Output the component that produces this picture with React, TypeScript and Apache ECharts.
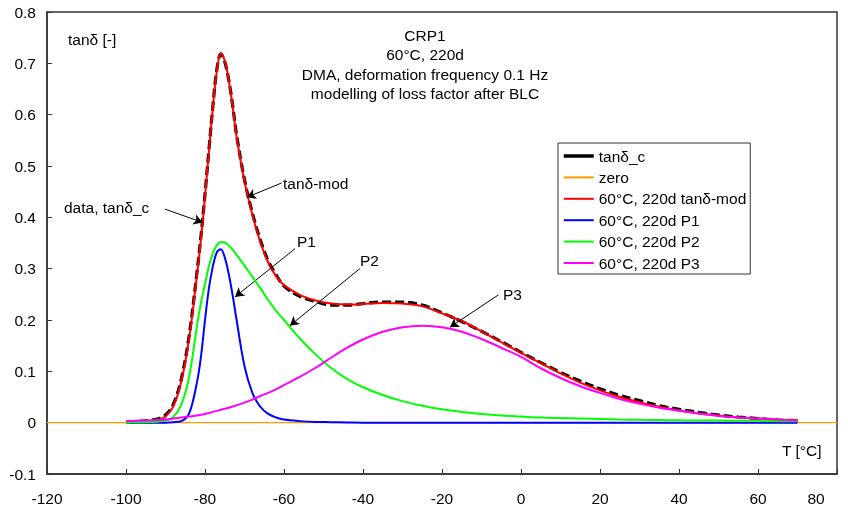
import React, { useEffect, useRef } from "react";
import * as echarts from "echarts";

const T = [-100, -96, -92, -90, -88, -86, -84, -82, -81, -80, -79, -78, -77, -76, -75, -74, -73, -72, -70, -68, -66, -64, -62, -60, -56, -52, -48, -44, -40, -35, -30, -25, -20, -15, -10, -5, 0, 5, 10, 15, 20, 25, 30, 35, 40, 45, 50, 55, 60, 65, 70];

const tanC = [0.001, 0.003, 0.007, 0.015, 0.036, 0.085, 0.17, 0.295, 0.365, 0.445, 0.532, 0.617, 0.688, 0.718, 0.703, 0.668, 0.618, 0.56, 0.473, 0.408, 0.356, 0.315, 0.288, 0.266, 0.246, 0.236, 0.229, 0.229, 0.232, 0.235, 0.235, 0.229, 0.214, 0.197, 0.178, 0.158, 0.137, 0.117, 0.098, 0.081, 0.066, 0.053, 0.043, 0.033, 0.026, 0.02, 0.015, 0.011, 0.008, 0.005, 0.004];

const tanMod = [0.001, 0.002, 0.005, 0.012, 0.032, 0.08, 0.165, 0.29, 0.36, 0.44, 0.53, 0.615, 0.685, 0.72, 0.705, 0.668, 0.615, 0.557, 0.47, 0.405, 0.352, 0.312, 0.285, 0.268, 0.249, 0.238, 0.232, 0.23, 0.231, 0.233, 0.232, 0.227, 0.213, 0.198, 0.178, 0.157, 0.136, 0.116, 0.096, 0.078, 0.063, 0.05, 0.04, 0.031, 0.024, 0.018, 0.014, 0.01, 0.008, 0.006, 0.0045];

const p1 = [0, 0, 0, 0, 0.001, 0.003, 0.018, 0.08, 0.13, 0.2, 0.262, 0.305, 0.332, 0.338, 0.322, 0.29, 0.248, 0.2, 0.11, 0.058, 0.031, 0.017, 0.01, 0.006, 0.003, 0.0015, 0.001, 0.0005, 0, 0, 0, 0, 0, 0, 0, 0, 0, 0, 0, 0, 0, 0, 0, 0, 0, 0, 0, 0, 0, 0, 0];

const p2 = [0, 0.001, 0.002, 0.004, 0.011, 0.035, 0.09, 0.19, 0.235, 0.27, 0.305, 0.33, 0.346, 0.352, 0.351, 0.345, 0.337, 0.327, 0.306, 0.284, 0.262, 0.239, 0.218, 0.2, 0.164, 0.133, 0.106, 0.085, 0.069, 0.054, 0.042, 0.033, 0.026, 0.021, 0.017, 0.014, 0.012, 0.01, 0.009, 0.008, 0.007, 0.006, 0.0055, 0.005, 0.0045, 0.004, 0.004, 0.0035, 0.0035, 0.003, 0.003];

const p3 = [0.003, 0.004, 0.005, 0.006, 0.008, 0.01, 0.012, 0.014, 0.0155, 0.017, 0.019, 0.021, 0.023, 0.025, 0.027, 0.029, 0.0315, 0.034, 0.039, 0.045, 0.052, 0.058, 0.065, 0.073, 0.089, 0.107, 0.127, 0.146, 0.162, 0.177, 0.186, 0.189, 0.186, 0.177, 0.163, 0.146, 0.128, 0.106, 0.087, 0.071, 0.058, 0.046, 0.037, 0.029, 0.023, 0.018, 0.013, 0.01, 0.008, 0.006, 0.004];

const zeroT = [-120, 80];
const zeroV = [0, 0];

const seriesNames = ["tanδ_c", "zero", "60°C, 220d tanδ-mod", "60°C, 220d P1", "60°C, 220d P2", "60°C, 220d P3"];

// arrows: [fromT, fromV, toT, toV]
const arrows = [
  [-90.1, 0.416, -80.6, 0.39],
  [-60.6, 0.467, -69.4, 0.439],
  [-57.2, 0.339, -72.4, 0.245],
  [-40.8, 0.3, -58.5, 0.189],
  [-5.7, 0.249, -18, 0.186],
];

const FONT = "'Liberation Sans', Arial, sans-serif";

function pairs(xs: number[], ys: number[]) {
  return xs.map((x, i) => [x, ys[i]]);
}

export default function App() {
  const ref = useRef<HTMLDivElement>(null);
  useEffect(() => {
    document.body.style.margin = "0";
    const chart = echarts.init(ref.current!, null, { renderer: "svg" });
    const txt = (text: string, x: number, y: number, align = "left") => ({
      type: "text",
      x,
      y,
      style: { text, fill: "#000", font: `15.5px ${FONT}`, textAlign: align, textVerticalAlign: "middle" },
      silent: true,
    });
    const lineCommon = { type: "line", symbol: "none", smooth: 0.35, animation: false };
    chart.setOption({
      animation: false,
      textStyle: { fontFamily: FONT },
      grid: { left: 47, right: 11, top: 12, bottom: 36, show: true, borderColor: "#333", borderWidth: 1.5 },
      xAxis: {
        type: "value",
        min: -120,
        max: 80,
        interval: 20,
        axisLine: { onZero: false, lineStyle: { color: "#333", width: 1.5 } },
        axisTick: { inside: true, length: 5, lineStyle: { color: "#333" } },
        axisLabel: {
          color: "#000",
          fontSize: 15.5,
          margin: 16,
          fontFamily: FONT,
          formatter: (v: number) => (v === 80 ? "{e|80}" : String(v)),
          rich: { e: { fontSize: 15.5, fontFamily: FONT, color: "#000", padding: [0, 42, 0, 0] } },
        },
        splitLine: { show: false },
      },
      yAxis: {
        type: "value",
        min: -0.1,
        max: 0.8,
        interval: 0.1,
        axisLine: { onZero: false, lineStyle: { color: "#333", width: 1.5 } },
        axisTick: { inside: true, length: 5, lineStyle: { color: "#333" } },
        axisLabel: {
          color: "#000",
          fontSize: 15.5,
          margin: 11,
          fontFamily: FONT,
          formatter: (v: number) => String(Math.round(v * 10) / 10),
        },
        splitLine: { show: false },
      },
      legend: {
        orient: "vertical",
        left: 558,
        top: 143,
        backgroundColor: "#fff",
        borderColor: "#333",
        borderWidth: 1,
        borderRadius: 0,
        padding: [5, 4, 3, 4],
        itemWidth: 30,
        itemHeight: 14,
        itemGap: 5.4,
        itemStyle: { opacity: 0 },
        textStyle: { color: "#000", fontSize: 15.5, fontFamily: FONT },
        data: [
          { name: seriesNames[0], lineStyle: { type: "solid", width: 3.5 } },
          seriesNames[1],
          seriesNames[2],
          seriesNames[3],
          seriesNames[4],
          seriesNames[5],
        ],
      },
      graphic: [
        txt("CRP1", 425, 35, "center"),
        txt("60°C, 220d", 425, 54, "center"),
        txt("DMA, deformation frequency 0.1 Hz", 425, 74.5, "center"),
        txt("modelling of loss factor after BLC", 425, 93.5, "center"),
        txt("tanδ [-]", 68, 39),
        txt("T [°C]", 782, 450),
        txt("data, tanδ_c", 64, 207),
        txt("tanδ-mod", 283, 183),
        txt("P1", 297, 241),
        txt("P2", 360, 260),
        txt("P3", 503, 294),
      ],
      series: [
        {
          ...lineCommon,
          name: seriesNames[0],
          data: pairs(T, tanC),
          lineStyle: { color: "#000", width: 3.2, type: [9, 4] },
          itemStyle: { color: "#000" },
          z: 2,
        },
        {
          ...lineCommon,
          name: seriesNames[1],
          smooth: false,
          data: pairs(zeroT, zeroV),
          lineStyle: { color: "#FF9900", width: 1.2 },
          itemStyle: { color: "#FF9900" },
          z: 1,
        },
        {
          ...lineCommon,
          name: seriesNames[2],
          data: pairs(T, tanMod),
          lineStyle: { color: "#FF0000", width: 2 },
          itemStyle: { color: "#FF0000" },
          z: 3,
        },
        {
          ...lineCommon,
          name: seriesNames[3],
          data: pairs(T, p1),
          lineStyle: { color: "#0000FF", width: 2 },
          itemStyle: { color: "#0000FF" },
          z: 4,
        },
        {
          ...lineCommon,
          name: seriesNames[4],
          data: pairs(T, p2),
          lineStyle: { color: "#00FF00", width: 2 },
          itemStyle: { color: "#00FF00" },
          z: 5,
        },
        {
          ...lineCommon,
          name: seriesNames[5],
          data: pairs(T, p3),
          lineStyle: { color: "#FF00FF", width: 2 },
          itemStyle: { color: "#FF00FF" },
          z: 6,
        },
        {
          type: "line",
          name: "arrows",
          data: [],
          symbol: "none",
          z: 7,
          markLine: {
            silent: true,
            animation: false,
            symbol: ["none", "arrow"],
            symbolSize: [8, 9],
            label: { show: false },
            lineStyle: { color: "#000", width: 1, type: "solid" },
            emphasis: { disabled: true },
            data: arrows.map((a) => [{ coord: [a[0], a[1]] }, { coord: [a[2], a[3]] }]),
          },
        },
      ],
    });
    return () => chart.dispose();
  }, []);
  return <div ref={ref} style={{ position: "fixed", left: 0, top: 0, width: 848, height: 510 }} />;
}
